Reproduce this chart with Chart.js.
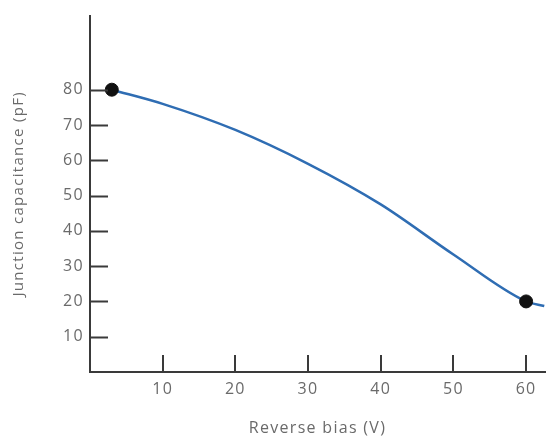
<!DOCTYPE html>
<html lang="en">
<head>
    <meta charset="UTF-8">
    <title>Junction capacitance</title>
    <script src="https://cdn.jsdelivr.net/npm/chart.js"></script>
    <style>
        html, body { margin: 0; padding: 0; background: #fff; overflow: hidden; }
        .chart-container { position: relative; width: 555px; height: 442px; }
    </style>
</head>
<body>
    <div class="chart-container">
        <canvas id="graficoCapacitancia" width="555" height="442"></canvas>
    </div>
    <script>
        // dados
        const curveX = [3, 10, 20, 30, 40, 50, 60, 62.5];
        const curveY = [80, 76, 68.6, 59, 47.5, 33.3, 20, 18.7];
        const markerX = [3, 60];
        const markerY = [80, 20];
        const xTicks = [10, 20, 30, 40, 50, 60];
        const yTicks = [10, 20, 30, 40, 50, 60, 70, 80];

        const axisColor = '#3a3a3a';
        const textColor = '#6a6a6a';
        const fontFamily = '"Open Sans", sans-serif';

        // espaçamento entre letras, como na figura
        const spacing = {
            id: 'spacing',
            beforeUpdate(chart) { chart.ctx.letterSpacing = '1.3px'; },
            beforeDraw(chart) { chart.ctx.letterSpacing = '1.3px'; }
        };

        // marcas de escala para dentro do gráfico
        const innerTicks = {
            id: 'innerTicks',
            afterDatasetsDraw(chart) {
                const { ctx, scales: { x, y } } = chart;
                ctx.save();
                ctx.strokeStyle = axisColor;
                ctx.lineWidth = 2;
                ctx.beginPath();
                yTicks.forEach(v => {
                    const py = Math.round(y.getPixelForValue(v)) + 0.5;
                    ctx.moveTo(x.left, py);
                    ctx.lineTo(x.left + 18, py);
                });
                xTicks.forEach(v => {
                    const px = Math.round(x.getPixelForValue(v));
                    ctx.moveTo(px, y.bottom);
                    ctx.lineTo(px, y.bottom - 17);
                });
                ctx.stroke();
                ctx.restore();
            }
        };

        const ctx = document.getElementById('graficoCapacitancia').getContext('2d');
        new Chart(ctx, {
            type: 'scatter',
            data: {
                datasets: [{
                    label: 'Markers',
                    data: markerX.map((v, i) => ({ x: v, y: markerY[i] })),
                    backgroundColor: '#111',
                    borderColor: '#111',
                    pointRadius: 6.5,
                    order: 0
                }, {
                    label: 'Curve',
                    type: 'line',
                    data: curveX.map((v, i) => ({ x: v, y: curveY[i] })),
                    borderColor: '#2f6db3',
                    borderWidth: 2.5,
                    pointRadius: 0,
                    cubicInterpolationMode: 'monotone',
                    fill: false,
                    order: 1
                }]
            },
            options: {
                responsive: false,
                animation: false,
                layout: { padding: { top: 5, right: 10, left: 0, bottom: 0 } },
                plugins: {
                    legend: { display: false },
                    tooltip: { enabled: false }
                },
                scales: {
                    x: {
                        type: 'linear',
                        min: 0,
                        max: 62.6,
                        afterFit: s => { s.height = 70; },
                        afterBuildTicks: s => { s.ticks = xTicks.map(v => ({ value: v })); },
                        grid: { display: false, drawTicks: false },
                        border: { color: axisColor, width: 2 },
                        ticks: {
                            padding: 8,
                            color: textColor,
                            font: { family: fontFamily, size: 16 }
                        },
                        title: {
                            display: true,
                            text: 'Reverse bias (V)',
                            color: textColor,
                            font: { family: fontFamily, size: 16 },
                            padding: { bottom: 4 }
                        }
                    },
                    y: {
                        min: 0,
                        max: 101,
                        afterFit: s => { s.width = 90; },
                        afterBuildTicks: s => { s.ticks = yTicks.map(v => ({ value: v })); },
                        grid: { display: false, drawTicks: false },
                        border: { color: axisColor, width: 2 },
                        ticks: {
                            padding: 6,
                            color: textColor,
                            font: { family: fontFamily, size: 16 }
                        },
                        title: {
                            display: true,
                            text: 'Junction capacitance (pF)',
                            color: textColor,
                            font: { family: fontFamily, size: 15 },
                            padding: { top: 10 }
                        }
                    }
                }
            },
            plugins: [spacing, innerTicks]
        });
    </script>
</body>
</html>
